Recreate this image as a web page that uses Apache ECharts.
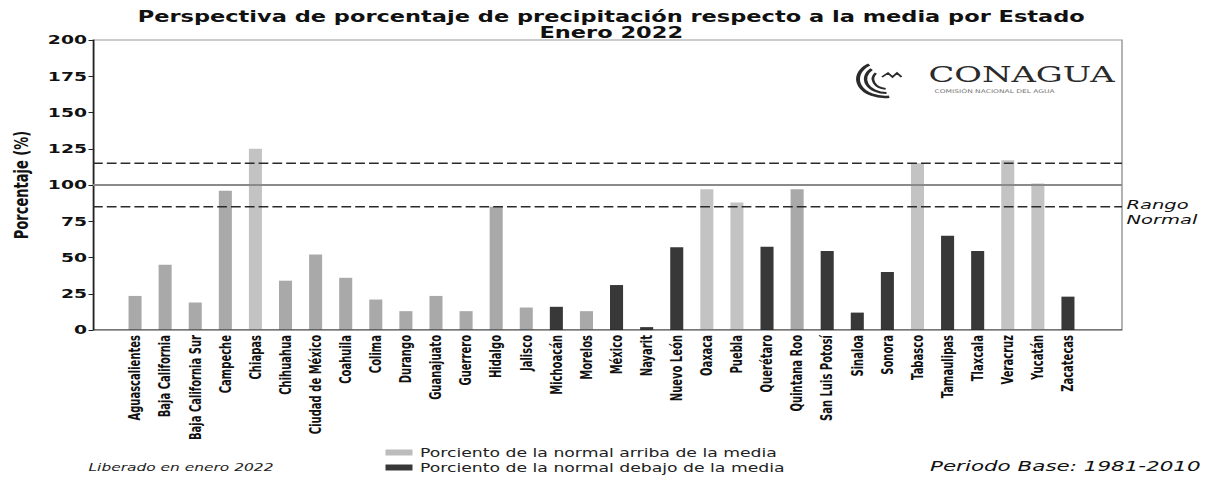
<!DOCTYPE html>
<html>
<head>
<meta charset="utf-8">
<title>Perspectiva de porcentaje de precipitación</title>
<script src="https://cdn.jsdelivr.net/npm/echarts@6/dist/echarts.min.js"></script>
<style>
  html, body { margin: 0; padding: 0; background: #fff; overflow: hidden; }
  /* el original está estirado en horizontal: se dibuja angosto y se escala */
  #chart { width: 815px; height: 485px; transform: scaleX(1.5); transform-origin: 0 0; }
</style>
</head>
<body>
<div id="chart"></div>
<script>
// estados (eje x)
const estados = [
  'Aguascalientes', 'Baja California', 'Baja California Sur', 'Campeche', 'Chiapas',
  'Chihuahua', 'Ciudad de México', 'Coahuila', 'Colima', 'Durango', 'Guanajuato',
  'Guerrero', 'Hidalgo', 'Jalisco', 'Michoacán', 'Morelos', 'México', 'Nayarit',
  'Nuevo León', 'Oaxaca', 'Puebla', 'Querétaro', 'Quintana Roo', 'San Luis Potosí',
  'Sinaloa', 'Sonora', 'Tabasco', 'Tamaulipas', 'Tlaxcala', 'Veracruz', 'Yucatán', 'Zacatecas'
];
// porcentaje de precipitación respecto a la media (%)
const porcentaje = [
  23.5, 45, 19, 96, 125,
  34, 52, 36, 21, 13, 23.5,
  13, 85, 15.5, 16, 13, 31, 2,
  57, 97, 88, 57.5, 97, 54.5,
  12, 40, 115, 65, 54.5, 117, 101, 23
];
// tono de la barra en la imagen escaneada
const tono = [
  'medio', 'medio', 'medio', 'medio', 'claro',
  'medio', 'medio', 'medio', 'medio', 'medio', 'medio',
  'medio', 'medio', 'medio', 'oscuro', 'medio', 'oscuro', 'oscuro',
  'oscuro', 'claro', 'claro', 'oscuro', 'medio', 'oscuro',
  'oscuro', 'oscuro', 'claro', 'oscuro', 'oscuro', 'claro', 'claro', 'oscuro'
];
const ticksY = [0, 25, 50, 75, 100, 125, 150, 175, 200];
const media = 100;
const rangoNormal = [85, 115];

const colores = { claro: '#c3c3c3', medio: '#a9a9a9', oscuro: '#323232' };

const chart = echarts.init(document.getElementById('chart'), null, { renderer: 'svg' });

const arriba = porcentaje.map((v, i) => tono[i] === 'oscuro' ? '-' : {
  value: v, itemStyle: { color: colores[tono[i]] }
});
const debajo = porcentaje.map((v, i) => tono[i] === 'oscuro' ? v : '-');

const linea = (y, estilo) => ({
  type: 'line', xAxisIndex: 0, yAxisIndex: 0, z: 5, silent: true,
  symbol: 'none', data: [[0, y], [1, y]], lineStyle: estilo
});

const option = {
  animation: false,
  textStyle: { fontFamily: 'DejaVu Sans' },
  title: {
    text: 'Perspectiva de porcentaje de precipitación respecto a la media por Estado\nEnero 2022',
    left: 'center', top: 4,
    textStyle: { fontSize: 15, fontWeight: 'bold', color: '#111', lineHeight: 16, align: 'center' }
  },
  legend: {
    orient: 'vertical', left: 252, top: 441, itemWidth: 18, itemHeight: 6, itemGap: 2,
    icon: 'rect',
    textStyle: { fontSize: 11.5, color: '#222', lineHeight: 13 },
    data: ['Porciento de la normal arriba de la media', 'Porciento de la normal debajo de la media']
  },
  grid: [
    { left: 54, right: 67, top: 40, bottom: 155, show: true, borderColor: '#9a9a9a', borderWidth: 1 },
    { left: 80, right: 93, top: 40, bottom: 155 }
  ],
  xAxis: [
    { type: 'value', gridIndex: 0, min: 0, max: 1, show: false },
    {
      type: 'category', gridIndex: 1, data: estados,
      axisLine: { show: false }, axisTick: { show: false },
      axisLabel: { rotate: 90, interval: 0, margin: 5, fontSize: 10, fontWeight: 'bold', color: '#111' }
    }
  ],
  yAxis: [
    {
      type: 'value', gridIndex: 0, min: ticksY[0], max: ticksY[ticksY.length - 1], interval: 25,
      name: 'Porcentaje (%)', nameLocation: 'middle', nameGap: 41,
      nameTextStyle: { fontSize: 13, fontWeight: 'bold', color: '#111' },
      splitLine: { show: false },
      axisLine: { show: true, lineStyle: { color: '#222', width: 1 } },
      axisTick: { show: true, length: 3, lineStyle: { color: '#222' } },
      axisLabel: { fontSize: 12.5, fontWeight: 'bold', color: '#111', margin: 4 }
    },
    { type: 'value', gridIndex: 1, min: 0, max: 200, show: false }
  ],
  series: [
    {
      name: 'Porciento de la normal arriba de la media', type: 'bar',
      xAxisIndex: 1, yAxisIndex: 1, barWidth: 8.7, barGap: '-100%',
      itemStyle: { color: '#bcbcbc' }, data: arriba
    },
    {
      name: 'Porciento de la normal debajo de la media', type: 'bar',
      xAxisIndex: 1, yAxisIndex: 1, barWidth: 8.7, barGap: '-100%',
      itemStyle: { color: '#383838' }, data: debajo
    },
    linea(rangoNormal[1], { color: '#2a2a2a', width: 1.5, type: [6.5, 2.7] }),
    linea(media, { color: '#8a8a8a', width: 1.8 }),
    linea(rangoNormal[0], { color: '#2a2a2a', width: 1.5, type: [6.5, 2.7] }),
    // eje inferior
    linea(0, { color: '#222', width: 1.2 })
  ],
  graphic: [
    {
      type: 'text', left: 751, top: 197,
      style: { text: 'Rango\nNormal', font: 'italic 13px "DejaVu Sans"', fill: '#111', lineHeight: 15 }
    },
    {
      type: 'text', left: 59, top: 462,
      style: { text: 'Liberado en enero 2022', font: 'italic 10.3px "DejaVu Sans"', fill: '#222' }
    },
    {
      type: 'text', left: 620, top: 459,
      style: { text: 'Periodo Base: 1981-2010', font: 'italic 14.3px "DejaVu Sans"', fill: '#111' }
    },
    // logotipo CONAGUA
    {
      type: 'text', left: 619, top: 63,
      style: { text: 'CONAGUA', font: '22.5px "DejaVu Serif"', fill: '#2b2b2b' }
    },
    {
      type: 'text', left: 623, top: 89,
      style: { text: 'COMISIÓN NACIONAL DEL AGUA', font: '5px "DejaVu Sans"', fill: '#777' }
    },
    {
      type: 'group',
      children: [
        { type: 'arc', shape: { cx: 590, cy: 79, r: 18, startAngle: Math.PI * 0.45, endAngle: Math.PI * 1.3 },
          style: { stroke: '#2b2b2b', fill: null, lineWidth: 2.6 } },
        { type: 'arc', shape: { cx: 591, cy: 79, r: 14, startAngle: Math.PI * 0.5, endAngle: Math.PI * 1.25 },
          style: { stroke: '#2b2b2b', fill: null, lineWidth: 2.2 } },
        { type: 'arc', shape: { cx: 592, cy: 79, r: 10, startAngle: Math.PI * 0.55, endAngle: Math.PI * 1.2 },
          style: { stroke: '#2b2b2b', fill: null, lineWidth: 1.8 } },
        { type: 'polyline', shape: { points: [[588, 77], [592, 73], [595, 77], [598, 73], [601, 77]] },
          style: { stroke: '#2b2b2b', fill: null, lineWidth: 1.4 } }
      ]
    }
  ]
};

chart.setOption(option);
</script>
</body>
</html>
